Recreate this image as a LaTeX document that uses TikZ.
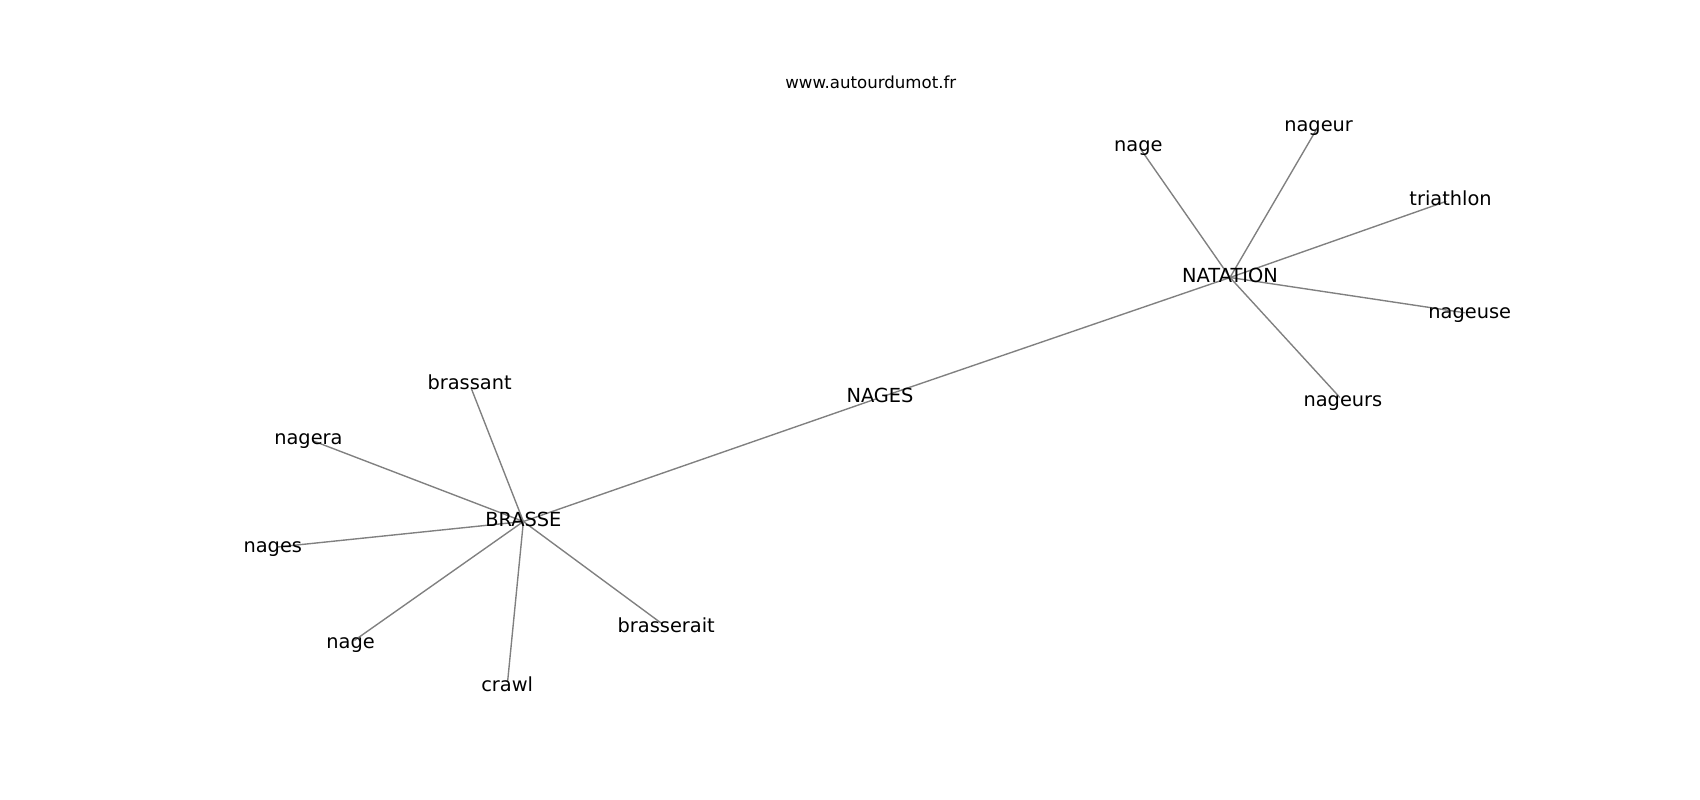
\documentclass[tikz,border=0pt]{standalone}
\usepackage{fontspec}
\setmainfont{DejaVu Sans}
\usepackage{tikz}
\usetikzlibrary{backgrounds}
\tikzstyle{word} = [inner sep=0pt, font=\fontsize{14}{16}\selectfont, text height=10.64pt, text depth=2.91pt]
\tikzstyle{site} = [inner sep=0pt, font=\fontsize{12}{14}\selectfont, text height=9.12pt, text depth=2.5pt]
\tikzstyle{link} = [draw=gray, line width=1pt, shorten >=3.3pt]

\begin{document}
\begin{tikzpicture}[x=0.01in, y=-0.01in]

\useasboundingbox (0,0) rectangle (1700,800);

\node [site] (site) at (870.8,84) {www.autourdumot.fr};

% three hubs
\node [word] (nages) at (880,397.5) {NAGES};
\node [word] (natation) at (1230,277.5) {NATATION};
\node [word] (brasse) at (523.4,521.5) {BRASSE};

\node [word] (nageA) at (1138.3,145.8) {nage};
\node [word] (nageur) at (1318.6,125.8) {nageur};
\node [word] (triathlon) at (1450.6,199.8) {triathlon};
\node [word] (nageuse) at (1469.7,313.5) {nageuse};
\node [word] (nageurs) at (1342.9,400.8) {nageurs};

\node [word] (brassant) at (469.6,384.1) {brassant};
\node [word] (nagera) at (308.4,439.1) {nagera};
\node [word] (nagesB) at (272.8,547.5) {nages};
\node [word] (nageB) at (350.6,643.1) {nage};
\node [word] (crawl) at (507.2,685.8) {crawl};
\node [word] (brasserait) at (666.2,626.8) {brasserait};

\begin{scope}[on background layer]
\draw [link] (brasse.center) -- (nages.center);
\draw [link] (natation.center) -- (nages.center);
\foreach \leaf in {nageA,nageur,triathlon,nageuse,nageurs}
  \draw [link] (natation.center) -- (\leaf.center);
\foreach \leaf in {brassant,nagera,nagesB,nageB,crawl,brasserait}
  \draw [link] (brasse.center) -- (\leaf.center);
\end{scope}

\end{tikzpicture}
\end{document}
